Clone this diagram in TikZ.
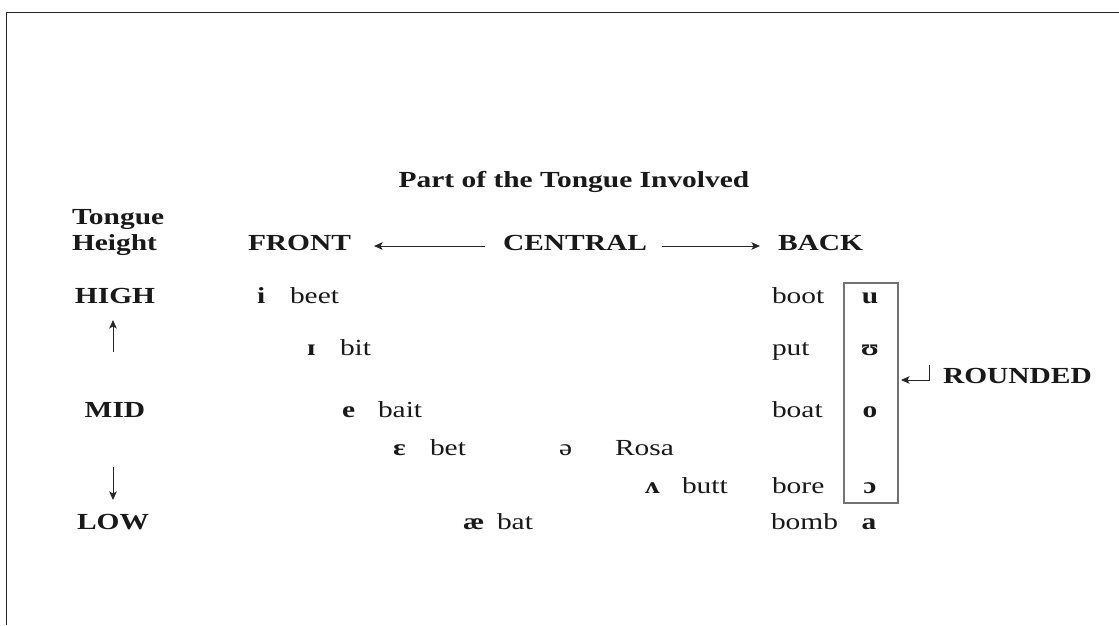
\documentclass[tikz,border=0pt]{standalone}
\usepackage{fontspec}
\setmainfont{Liberation Serif}[FakeStretch=1.28]
\usetikzlibrary{arrows.meta,calc}
\newcommand\chartsize{\fontsize{23}{27}\selectfont}
\begin{document}
\begin{tikzpicture}[x=1pt,y=-1pt,
  every node/.style={inner sep=0pt, outer sep=0pt, font=\chartsize, text=black!90},
  hd/.style={anchor=base west, font=\chartsize\bfseries},
  lvl/.style={anchor=base, font=\chartsize\bfseries},
  vow/.style={anchor=base west, font=\chartsize\bfseries},
  word/.style={anchor=base west},
  colv/.style={anchor=base, font=\chartsize\bfseries},
  arr/.style={line width=1pt, black!85, -{Stealth[length=8.5pt,width=7.5pt,inset=2pt]}},
  roundbox/.style={draw=black!55, line width=1.1pt, minimum width=54pt, minimum height=220pt},
  frame/.style={draw=black!85, line width=1.8pt}
]
\useasboundingbox (0,0) rectangle (1119,625);
\fill[white] (0,0) rectangle (1119,625);
% outer frame (top and left edges)
\draw[frame] (1119,12.5) -- (6.5,12.5) -- (6.5,625);

% headings
\node[anchor=base, font=\chartsize\bfseries] (title) at (574,187) {Part of the Tongue Involved};
\node[hd] (tongue) at (72,224) {Tongue};
\node[hd] (height) at (72,250) {Height};
\node[hd] (front) at (248,250) {FRONT};
\node[hd] (central) at (503,250) {CENTRAL};
\node[hd] (back) at (778,250) {BACK};

\draw[arr] ($(central.base west)+(-18,-4)$) -- ($(front.base east)+(23,-4)$);
\draw[arr] ($(central.base east)+(15,-4)$) -- ($(back.base west)+(-18,-4)$);

% tongue height scale
\node[lvl] (high) at (115,303) {HIGH};
\node[lvl] (mid) at (115,417) {MID};
\node[lvl] (low) at (113,529) {LOW};
\draw[arr] ($(high.base)+(-2,49)$) -- ($(high.base)+(-2,17)$);
\draw[arr] ($(low.base)+(0,-62)$) -- ($(low.base)+(0,-29)$);

% front and central vowels
\node[vow] (vi) at (257,303) {i};
\node[word] (wbeet) at (290,303) {beet};
\node[vow] (vI) at (307,355) {ɪ};
\node[word] (wbit) at (340,355) {bit};
\node[vow] (ve) at (342,417) {e};
\node[word] (wbait) at (378,417) {bait};
\node[vow] (veps) at (393,455) {ɛ};
\node[word] (wbet) at (430,455) {bet};
\node[word] (vschwa) at (559,455) {ə};
\node[word] (wrosa) at (615,455) {Rosa};
\node[vow] (vwedge) at (645,493) {ʌ};
\node[word] (wbutt) at (682,493) {butt};
\node[vow] (vae) at (463,529) {æ};
\node[word] (wbat) at (497,529) {bat};

% back vowels
\node[word] (wboot) at (772,303) {boot};
\node[word] (wput) at (772,355) {put};
\node[word] (wboat) at (772,417) {boat};
\node[word] (wbore) at (772,493) {bore};
\node[word] (wbomb) at (771,529) {bomb};
\node[roundbox] (box) at (871,393) {};
\node[colv] (vu) at (870,303) {u};
\node[colv] (vU) at (870,355) {ʊ};
\node[colv] (vo) at (870,417) {o};
\node[colv] (vopen) at (870,493) {ɔ};
\node[colv] (va) at (869,529) {a};

% rounded label
\node[hd] (rounded) at (943,383) {ROUNDED};
\draw[arr] ($(rounded.base west)+(-14,-18)$) -- ($(rounded.base west)+(-14,-3)$) -- ($(rounded.base west)+(-42,-3)$);
\end{tikzpicture}
\end{document}
